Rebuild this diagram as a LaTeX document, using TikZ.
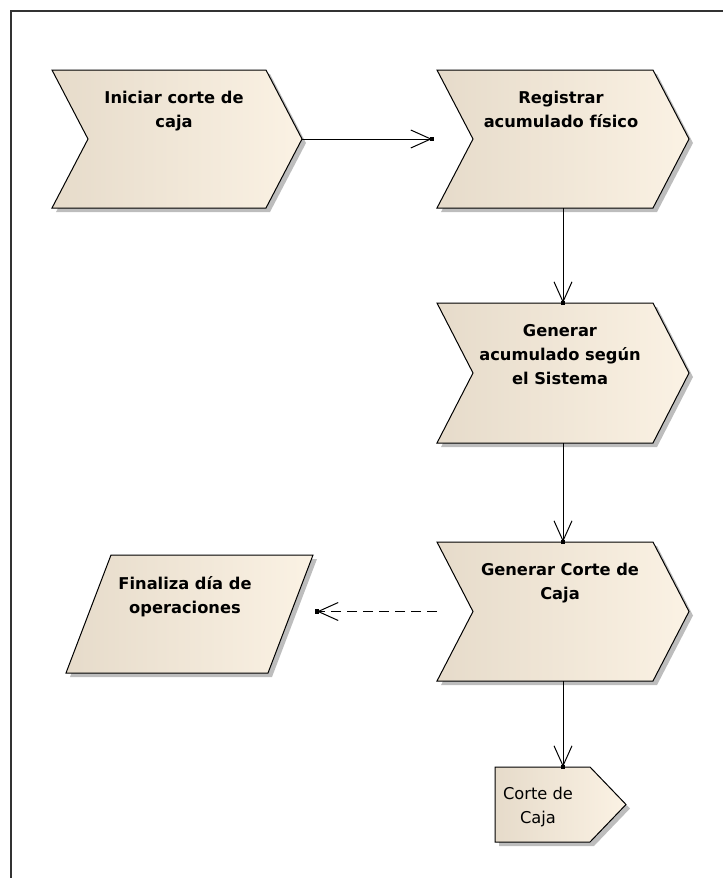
\documentclass[tikz,border=0pt]{standalone}
\usepackage{fontspec}
\setmainfont{DejaVu Sans}
\usetikzlibrary{arrows.meta,calc,fit,decorations.markings}

\definecolor{fillL}{HTML}{E6DBCA}
\definecolor{fillR}{HTML}{FBF2E4}
\definecolor{shadowgray}{HTML}{BDBDBD}
\definecolor{framegray}{HTML}{333333}

\tikzset{
  bbox/.style={inner sep=0pt, outer sep=0pt},
  shapebody/.style={draw=black, line width=0.75pt, line join=miter,
    left color=fillL, right color=fillR},
  shapeshadow/.style={fill=shadowgray, draw=none},
  boldtxt/.style={font=\bfseries\fontsize{12.2}{18}\selectfont, align=center,
    text=black, inner sep=0pt, anchor=north},
  plaintxt/.style={font=\fontsize{12.2}{18}\selectfont, align=center,
    text=black, inner sep=0pt, anchor=north},
  conn/.style={draw=black, line width=0.75pt,
    -{Straight Barb[length=15pt,width=13.5pt,line width=0.75pt]},
    postaction={decorate},
    decoration={markings, mark=at position 1 with
      {\fill[black] (-1.6pt,-1.6pt) rectangle (1.6pt,1.6pt);}}},
  dashconn/.style={conn, dash pattern=on 7.5pt off 4.5pt},
  framestroke/.style={draw=framegray, line width=1.5pt}
}

% chevron process box: name, left, top, right, bottom
\newcommand{\chevron}[5]{%
  \pgfmathsetmacro\cym{(#3+#5)/2}%
  \path[shapeshadow, shift={(4,4)}] (#2,#3) -- (#4-36,#3) -- (#4,\cym)
    -- (#4-36,#5) -- (#2,#5) -- (#2+36,\cym) -- cycle;
  \path[shapebody] (#2,#3) -- (#4-36,#3) -- (#4,\cym)
    -- (#4-36,#5) -- (#2,#5) -- (#2+36,\cym) -- cycle;
  \node[bbox, fit={(#2,#3) (#4,#5)}] (#1) {};
}

\begin{document}
\begin{tikzpicture}[x=0.75pt, y=-0.75pt]
  \useasboundingbox (0,0) rectangle (723,878);

  % diagram frame (top and left edges)
  \draw[framestroke] (11,878) -- (11,11) -- (723,11);

  % process steps
  \chevron{ini}{52}{70}{302}{208}
  \chevron{reg}{437}{70}{689}{208}
  \chevron{gen}{437}{303}{689}{443}
  \chevron{gcc}{437}{542}{689}{681}

  % end event
  \path[shapeshadow, shift={(4,4)}] (111,555) -- (313,555) -- (268,673) -- (66,673) -- cycle;
  \path[shapebody] (111,555) -- (313,555) -- (268,673) -- (66,673) -- cycle;
  \node[bbox, fit={(66,555) (313,673)}] (fin) {};

  % output object
  \path[shapeshadow, shift={(4,4)}] (495,767) -- (590,767) -- (626,804.5) -- (590,842) -- (495,842) -- cycle;
  \path[shapebody] (495,767) -- (590,767) -- (626,804.5) -- (590,842) -- (495,842) -- cycle;
  \node[bbox, fit={(495,767) (626,842)}] (cc) {};

  % labels
  \node[boldtxt] (iniT) at (174,90.7) {Iniciar corte de\\caja};
  \node[boldtxt] (regT) at (561,90.7) {Registrar\\acumulado físico};
  \node[boldtxt] (genT) at (560,323.7) {Generar\\acumulado según\\el Sistema};
  \node[boldtxt] (gccT) at (560,562.7) {Generar Corte de\\Caja};
  \node[boldtxt] (finT) at (185,576.7) {Finaliza día de\\operaciones};
  \node[plaintxt] (ccT) at (538,786.7) {Corte de\\Caja};

  % connector end points just outside the target boxes
  \coordinate (regIn) at ($(reg.west)+(-5,0)$);
  \coordinate (finIn) at ($(gcc.west -| fin.east)+(4,0)$);

  % flow
  \draw[conn] (ini.east) -- (regIn);
  \draw[conn] (reg.south) -- (gen.north);
  \draw[conn] (gen.south) -- (gcc.north);
  \draw[conn] (gcc.south) -- (gcc.south |- cc.north);
  \draw[dashconn] (gcc.west) -- (finIn);
\end{tikzpicture}
\end{document}
